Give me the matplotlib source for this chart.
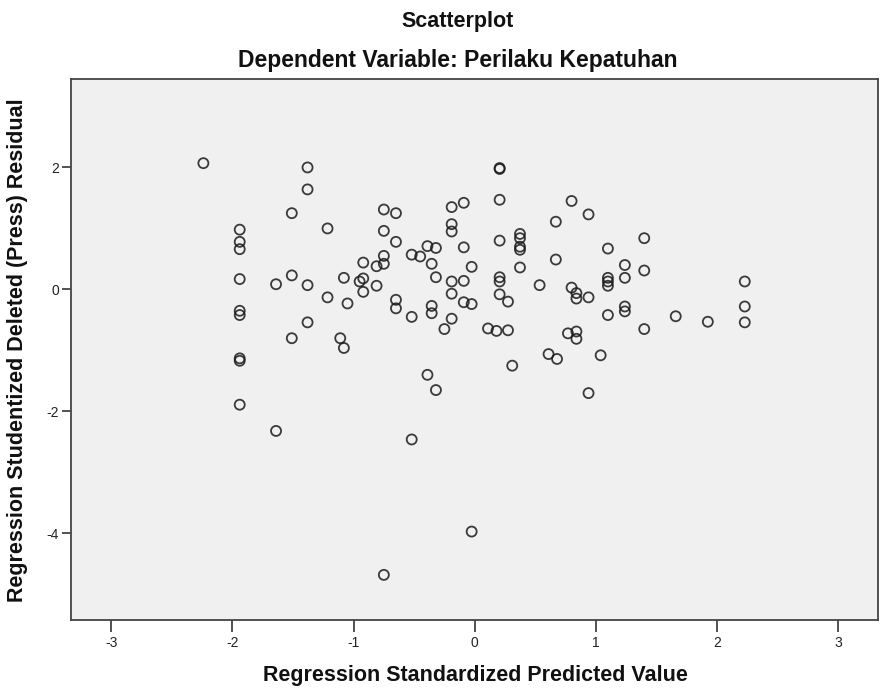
import matplotlib
matplotlib.use("Agg")
import matplotlib.pyplot as plt

plt.rcParams['font.family'] = ['Liberation Sans', 'DejaVu Sans']

# Regression Standardized Predicted Value
pred = [
    -2.24, -1.38, -1.38, -1.51, -1.215, -1.94, -1.94, -1.94, -1.94, -1.64,
    -1.51, -1.38, -1.08, -1.215, -1.05, -1.94, -1.94, -1.38, -1.51, -1.11,
    -1.94, -1.94, -1.08, -1.94, -1.64,
    0.206, 0.206, 0.206, -0.09, -0.19, -0.75, -0.65, 0.80, 0.94, 0.67,
    -0.19, -0.19, -0.75, -0.65, 0.206, 0.374, 0.374, 0.374, 0.374, 0.374,
    0.67, 1.10, 1.24, 1.24, 1.10, 1.10, 1.10, 1.40, 1.40,
    -0.09, -0.025, -0.32, -0.39, -0.52, -0.45, -0.355, -0.75, -0.75, -0.81,
    -0.92, -0.92, -0.95, -0.81, -0.92, -0.32, -0.09, -0.19, -0.19, -0.09,
    -0.025, -0.65, -0.65, -0.355, -0.355, -0.52, -0.19, -0.25, 0.11, 0.18,
    0.275, 0.206, 0.206, 0.206, 0.275, 0.536, 0.80, 0.84, 0.84, 0.94,
    1.24, 1.24, 1.10, 0.77, 0.84, 0.84, 1.40,
    1.66, 1.925, 2.23, 2.23, 2.23,
    -0.39, -0.32, 0.31, 0.61, 0.68, 1.04, 0.94, -0.52, -0.025, -0.75,
]

# Regression Studentized Deleted (Press) Residual
resid = [
    2.07, 2.00, 1.64, 1.25, 1.00, 0.98, 0.78, 0.66, 0.17, 0.085,
    0.23, 0.07, 0.19, -0.13, -0.23, -0.35, -0.42, -0.54, -0.80, -0.80,
    -1.13, -1.17, -0.96, -1.89, -2.32,
    1.975, 1.99, 1.47, 1.42, 1.35, 1.31, 1.25, 1.45, 1.23, 1.11,
    1.07, 0.95, 0.96, 0.78, 0.80, 0.91, 0.84, 0.70, 0.65, 0.36,
    0.49, 0.67, 0.40, 0.19, 0.19, 0.13, 0.06, 0.84, 0.31,
    0.69, 0.37, 0.68, 0.71, 0.57, 0.54, 0.42, 0.55, 0.42, 0.38,
    0.44, 0.18, 0.13, 0.06, -0.04, 0.20, 0.14, 0.13, -0.07, -0.21,
    -0.24, -0.17, -0.31, -0.27, -0.39, -0.45, -0.48, -0.65, -0.64, -0.68,
    -0.67, 0.20, 0.13, -0.08, -0.20, 0.07, 0.03, -0.06, -0.15, -0.13,
    -0.28, -0.36, -0.42, -0.72, -0.69, -0.81, -0.65,
    -0.44, -0.53, 0.13, -0.28, -0.54,
    -1.40, -1.65, -1.25, -1.06, -1.14, -1.08, -1.70, -2.46, -3.97, -4.68,
]

x_ticks = [-3, -2, -1, 0, 1, 2, 3]
y_ticks = [-4, -2, 0, 2]

fig = plt.figure(figsize=(8.83, 6.93), dpi=100)
ax = fig.add_axes([71 / 883, 1 - 620 / 693, (878 - 71) / 883, (620 - 79) / 693])
ax.set_facecolor('#F0F0F0')

ax.scatter(pred, resid, s=52, facecolors='none', edgecolors='#1a1a1a',
           linewidths=1.3, alpha=0.85, zorder=3)

ax.set_xlim(-3.333, 3.33)
ax.set_ylim(-5.42, 3.45)
ax.set_xticks(x_ticks)
ax.set_yticks(y_ticks)
ax.set_xticklabels([str(t) for t in x_ticks])
ax.set_yticklabels([str(t) for t in y_ticks])
ax.tick_params(axis='x', direction='out', length=8.5, width=1.2, colors='#333333',
               labelsize=10, pad=3, labelcolor='#222222')
ax.tick_params(axis='y', direction='out', length=6.5, width=1.2, colors='#333333',
               labelsize=10, pad=2, labelcolor='#222222')
for sp in ax.spines.values():
    sp.set_color('#444444')
    sp.set_linewidth(1.3)

fig.text(458 / 883, 1 - 22 / 693, 'Scatterplot', ha='center', va='center',
         fontsize=15.5, fontweight='bold', color='#111111')
fig.text(458 / 883, 1 - 61 / 693, 'Dependent Variable: Perilaku Kepatuhan',
         ha='center', va='center', fontsize=16.5, fontweight='bold', color='#111111')
fig.text(475 / 883, 1 - 676 / 693, 'Regression Standardized Predicted Value',
         ha='center', va='center', fontsize=15.5, fontweight='bold', color='#111111')
fig.text(18 / 883, 1 - 350 / 693, 'Regression Studentized Deleted (Press) Residual',
         ha='center', va='center', rotation=90, fontsize=15.5, fontweight='bold',
         color='#111111')

fig.savefig('out.png', dpi=100, facecolor='white')
